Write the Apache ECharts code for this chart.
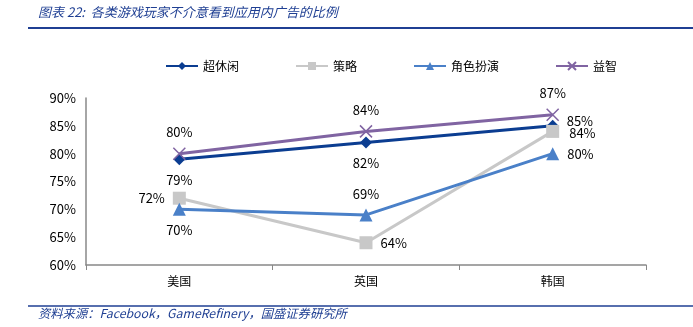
<!DOCTYPE html>
<html>
<head>
<meta charset="utf-8">
<script src="https://cdn.jsdelivr.net/npm/echarts@6/dist/echarts.min.js"></script>
<style>
  html, body { margin: 0; padding: 0; background: #fff; }
  #chart { width: 693px; height: 327px; }
</style>
</head>
<body>
<div id="chart"></div>
<script>
// Categories (countries) and each game genre's share of players accepting in-app ads
const categories = ['美国', '英国', '韩国'];
const casualValues = [79, 82, 85];     // 超休闲
const strategyValues = [72, 64, 84];   // 策略
const rpgValues = [70, 69, 80];        // 角色扮演
const puzzleValues = [80, 84, 87];     // 益智
const yTicks = [60, 65, 70, 75, 80, 85, 90];

// Where each point's value label sits, plus small nudges for crowded spots
const casualLabelPos = ['bottom', 'bottom', 'right'];
const strategyLabelPos = ['left', 'right', 'right'];
const rpgLabelPos = ['bottom', 'top', 'right'];
const puzzleLabelPos = ['top', 'top', 'top'];
const casualLabelShift = [[0, 0], [0, 0], [0, -5]];
const strategyLabelShift = [[0, 0], [0, 0], [2, 2]];

const FONT = '"Noto Sans CJK SC", "Open Sans", sans-serif';

function withLabels(values, positions, shifts) {
  return values.map((v, i) => ({
    value: v,
    label: { position: positions[i], offset: shifts ? shifts[i] : [0, 0] }
  }));
}

function makeSeries(name, values, positions, shifts, color, symbol, symbolSize, stroke) {
  return {
    name: name,
    type: 'line',
    data: withLabels(values, positions, shifts),
    symbol: symbol,
    symbolSize: symbolSize,
    lineStyle: { color: color, width: 3 },
    itemStyle: stroke
      ? { color: color, borderColor: color, borderWidth: 1.5 }
      : { color: color },
    label: {
      show: true,
      formatter: p => p.value + '%',
      color: '#000',
      fontSize: 13,
      fontFamily: FONT,
      distance: 8
    },
    emphasis: { disabled: true },
    animation: false
  };
}

const chart = echarts.init(document.getElementById('chart'));
chart.setOption({
  animation: false,
  graphic: [
    {
      type: 'text', left: 38, top: 6,
      style: {
        text: '图表 22:  各类游戏玩家不介意看到应用内广告的比例',
        fill: '#1F3F93', fontSize: 13, fontStyle: 'italic', fontFamily: FONT
      }
    },
    {
      type: 'line', shape: { x1: 28, y1: 28, x2: 693, y2: 28 },
      style: { stroke: '#1F3F93', lineWidth: 2 }
    },
    {
      type: 'line', shape: { x1: 28, y1: 306, x2: 693, y2: 306 },
      style: { stroke: '#1F3F93', lineWidth: 1.5 }
    },
    {
      type: 'text', left: 38, top: 307,
      style: {
        text: '资料来源：Facebook，GameRefinery，国盛证券研究所',
        fill: '#1F3F93', fontSize: 12.3, fontStyle: 'italic', fontFamily: FONT
      }
    }
  ],
  legend: {
    top: 55,
    left: 160,
    itemGap: 56,
    itemWidth: 32,
    itemHeight: 10,
    textStyle: { fontSize: 12, color: '#000', fontFamily: FONT },
    data: ['超休闲', '策略', '角色扮演', '益智']
  },
  grid: { left: 86, right: 47, top: 98, bottom: 62 },
  xAxis: {
    type: 'category',
    data: categories,
    axisLine: { lineStyle: { color: '#888', width: 1.5 } },
    axisTick: { show: true, length: 5, lineStyle: { color: '#888' } },
    axisLabel: { fontSize: 12, color: '#000', fontFamily: FONT, margin: 10 }
  },
  yAxis: {
    type: 'value',
    min: yTicks[0],
    max: yTicks[yTicks.length - 1],
    interval: 5,
    axisLine: { show: true, lineStyle: { color: '#888', width: 1.5 } },
    axisTick: { show: false },
    splitLine: { show: false },
    axisLabel: {
      formatter: v => v + '%',
      fontSize: 13, color: '#000', fontFamily: FONT, margin: 10
    }
  },
  series: [
    makeSeries('超休闲', casualValues, casualLabelPos, casualLabelShift, '#0B3D91', 'diamond', 12, false),
    makeSeries('策略', strategyValues, strategyLabelPos, strategyLabelShift, '#C8C8C8', 'rect', 13, false),
    makeSeries('角色扮演', rpgValues, rpgLabelPos, null, '#4A80C8', 'triangle', 13, false),
    makeSeries('益智', puzzleValues, puzzleLabelPos, null, '#8064A2', 'path://M0,0 L10,10 M10,0 L0,10', 12, true)
  ]
});
</script>
</body>
</html>
